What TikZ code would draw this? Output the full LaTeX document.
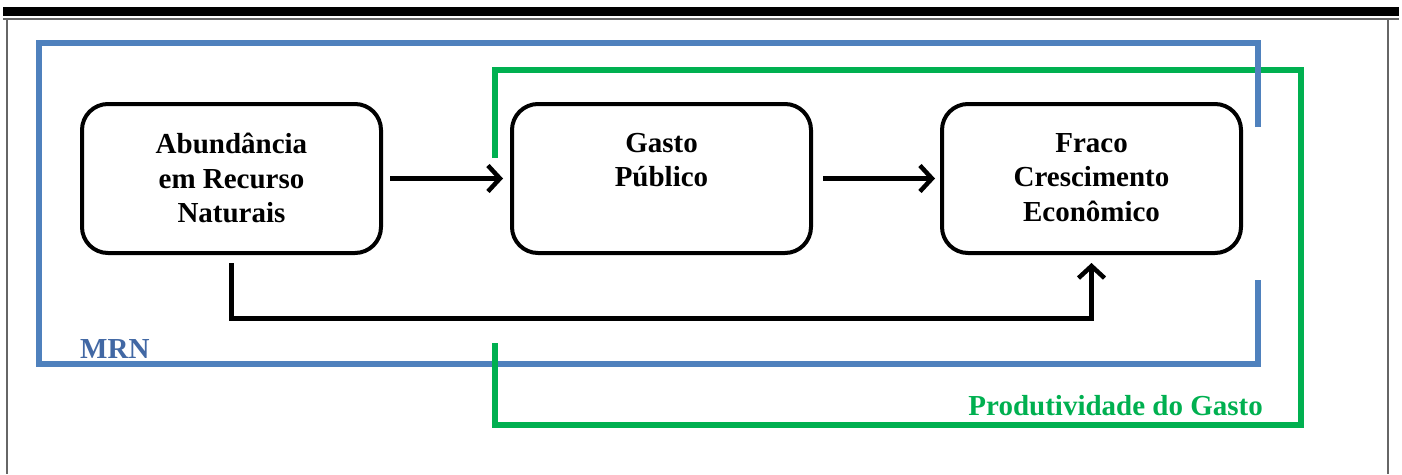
\documentclass[tikz,border=0pt]{standalone}
\usepackage{fontspec}
\setmainfont{Liberation Serif}
\usetikzlibrary{arrows.meta,calc}
\definecolor{mrnblue}{HTML}{4F81BD}
\definecolor{mrntext}{RGB}{66,104,164}
\definecolor{prodgreen}{HTML}{00B050}
\tikzset{
  boxnode/.style={draw=black,line width=4pt,rounded corners=26pt,minimum width=299pt,minimum height=149pt,inner sep=0pt},
  boxtext/.style={anchor=north,inner sep=0pt,align=center,font=\fontsize{29}{34.5}\selectfont\bfseries},
  flow/.style={draw=black,line width=4.5pt,-{Straight Barb[length=12pt,width=26pt]}},
  mrnline/.style={draw=mrnblue,line width=6.5pt,line join=miter},
  prodline/.style={draw=prodgreen,line width=6.5pt,line join=miter},
  looplabel/.style={inner sep=0pt,font=\fontsize{29}{34}\selectfont\bfseries},
  framerule/.style={draw=black!60,line width=1.5pt}
}
\begin{document}
\begin{tikzpicture}[x=1pt,y=-1pt]
\useasboundingbox (0,0) rectangle (1402,474);
% page frame
\fill[black] (3,7) rectangle (1399,15.5);
\draw[framerule] (3,19) -- (1399,19);
\draw[framerule] (7,19) -- (7,474);
\draw[framerule] (1388,19) -- (1388,474);
% boxes
\node[boxnode] (abund) at (231.5,178.5) {};
\node[boxnode] (gasto) at (661.5,178.5) {};
\node[boxnode] (fraco) at (1091.5,178.5) {};
\node[boxtext] (abundtxt) at ($(abund.north)+(0,31)$) {Abundância\\em Recurso\\Naturais};
\node[boxtext] (gastotxt) at ($(gasto.north)+(0,31)$) {Gasto\\Público};
\node[boxtext] (fracotxt) at ($(fraco.north)+(0,31)$) {Fraco\\Crescimento\\Econômico};
% arrows
\draw[flow,shorten <=7pt,shorten >=7pt] (abund.east) -- (gasto.west);
\draw[flow,shorten <=10pt,shorten >=5pt] (gasto.east) -- (fraco.west);
\draw[flow,shorten <=8pt,shorten >=8pt] (abund.south) -- ++(0,63.5) -| (fraco.south);
% loop corners
\coordinate (g1) at (495,158);
\coordinate (g2) at (495,70);
\coordinate (g3) at (1301,70);
\coordinate (g4) at (1301,425);
\coordinate (g5) at (495,425);
\coordinate (g6) at (495,343);
\coordinate (b1) at (1258,127);
\coordinate (b2) at (1258,43);
\coordinate (b3) at (39,43);
\coordinate (b4) at (39,364);
\coordinate (b5) at (1258,364);
\coordinate (b6) at (1258,280);
\draw[prodline] (g1) -- (g2) -- (g3) -- (g4) -- (g5) -- (g6);
\draw[mrnline] (b1) -- (b2) -- (b3) -- (b4) -- (b5) -- (b6);
\draw[prodline] (g5) -- (g6);
% labels
\node[looplabel,text=mrntext,anchor=base west] (mrn) at (80,358) {MRN};
\node[looplabel,text=prodgreen,anchor=base east] (prod) at (1263,415) {Produtividade do Gasto};
\end{tikzpicture}
\end{document}
